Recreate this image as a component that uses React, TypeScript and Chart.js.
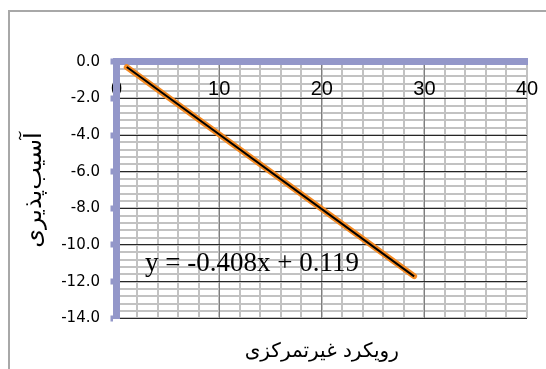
import { useEffect, useRef } from 'react';
import { Chart, registerables } from 'chart.js';

Chart.register(...registerables);

// ---- data ----
const X_VALUES = [1, 29];
const SERIES_VALUES = [-0.3, -11.7];
const TREND_VALUES = [-0.29, -11.71];

const X_MIN = 0;
const X_MAX = 40;
const X_MAJOR_STEP = 10;
const X_MINOR_STEP = 2;
const Y_MIN = -14;
const Y_MAX = 0;
const Y_MAJOR_STEP = 2;
const Y_MINOR_STEP = 0.4;

const EQUATION_TEXT = 'y = -0.408x + 0.119';
const EQUATION_AT = { x: 2.78, y: -11.44 };
const X_TITLE = 'رویکرد غیرتمرکزی';
const Y_TITLE = 'آسیب‌پذیری';

// ---- styles ----
const AXIS_BLUE = '#9397c9';
const ORANGE = '#f58a22';
const MINOR_GRID = '#c2c2c2';
const W = 546;
const H = 369;
const AREA = { left: 116.5, top: 61.7, right: 527, bottom: 318.3 };

const equationPlugin = {
  id: 'equationLabel',
  afterDatasetsDraw(chart: any) {
    const { ctx, scales } = chart;
    ctx.save();
    ctx.font = '27px "Liberation Serif"';
    ctx.fillStyle = '#000';
    ctx.textAlign = 'left';
    ctx.textBaseline = 'alphabetic';
    ctx.fillText(
      EQUATION_TEXT,
      scales.x.getPixelForValue(EQUATION_AT.x),
      scales.y.getPixelForValue(EQUATION_AT.y)
    );
    ctx.restore();
  },
};

export default function App() {
  const ref = useRef<HTMLCanvasElement>(null);

  useEffect(() => {
    const canvas = ref.current!;
    const chart = new Chart(canvas, {
      type: 'scatter',
      data: {
        datasets: [
          {
            data: X_VALUES.map((x, i) => ({ x, y: TREND_VALUES[i] })),
            borderColor: '#000',
            borderWidth: 2,
            showLine: true,
            pointRadius: 0,
            order: 0,
            xAxisID: 'x',
            yAxisID: 'y',
          },
          {
            data: X_VALUES.map((x, i) => ({ x, y: SERIES_VALUES[i] })),
            borderColor: ORANGE,
            borderWidth: 6,
            borderCapStyle: 'round',
            showLine: true,
            pointRadius: 0,
            order: 1,
            xAxisID: 'x',
            yAxisID: 'y',
          },
        ],
      },
      options: {
        animation: false,
        responsive: false,
        devicePixelRatio: 1,
        layout: { padding: { left: 0, top: 0, right: W - AREA.right, bottom: 0 } },
        plugins: { legend: { display: false }, tooltip: { enabled: false } },
        scales: {
          xMinor: {
            type: 'linear',
            position: 'bottom',
            min: X_MIN,
            max: X_MAX,
            afterFit: (s: any) => {
              s.height = H - AREA.bottom;
              s.paddingLeft = 0;
              s.paddingRight = 0;
            },
            ticks: { display: false, stepSize: X_MINOR_STEP },
            grid: { color: MINOR_GRID, lineWidth: 2, drawTicks: false, z: -2 },
            border: { display: false },
            title: {
              display: true,
              text: X_TITLE,
              color: '#000',
              font: { family: 'DejaVu Sans', size: 20 },
              padding: { top: 0, bottom: 5 },
            },
          },
          yMinor: {
            type: 'linear',
            position: 'left',
            min: Y_MIN,
            max: Y_MAX,
            afterFit: (s: any) => {
              s.width = 0;
            },
            ticks: { display: false, stepSize: Y_MINOR_STEP },
            grid: { color: MINOR_GRID, lineWidth: 2, drawTicks: false, z: -2 },
            border: { display: false },
          },
          x: {
            type: 'linear',
            position: 'top',
            min: X_MIN,
            max: X_MAX,
            afterFit: (s: any) => {
              s.height = AREA.top;
              s.paddingLeft = 0;
              s.paddingRight = 0;
            },
            ticks: {
              stepSize: X_MAJOR_STEP,
              mirror: true,
              padding: 15.3,
              maxRotation: 0,
              autoSkip: false,
              color: '#000',
              font: { family: 'Liberation Sans', size: 20 },
            },
            grid: {
              color: (c: any) =>
                c.tick && (c.tick.value === X_MIN || c.tick.value === X_MAX) ? 'rgba(0,0,0,0)' : '#7f7f7f',
              lineWidth: 1,
              drawTicks: false,
              z: -1,
            },
            border: { color: AXIS_BLUE, width: 7 },
          },
          y: {
            type: 'linear',
            position: 'left',
            min: Y_MIN,
            max: Y_MAX,
            afterFit: (s: any) => {
              s.width = AREA.left;
              s.paddingTop = 0;
              s.paddingBottom = 0;
            },
            ticks: {
              stepSize: Y_MAJOR_STEP,
              padding: 10.5,
              color: '#000',
              font: { family: 'DejaVu Sans', size: 15 },
              callback: (v: any) => Number(v).toFixed(1),
            },
            grid: {
              color: (c: any) => (c.tick && c.tick.value === Y_MAX ? 'rgba(0,0,0,0)' : '#262626'),
              lineWidth: 1,
              tickColor: AXIS_BLUE,
              tickWidth: 6,
              tickLength: 6,
              z: -1,
            },
            border: { color: AXIS_BLUE, width: 7 },
            title: {
              display: true,
              text: Y_TITLE,
              color: '#000',
              font: { family: 'DejaVu Sans', size: 24 },
              padding: { top: 20.6, bottom: 0 },
            },
          },
        },
      },
      plugins: [equationPlugin],
    } as any);
    return () => chart.destroy();
  }, []);

  return (
    <div style={{ position: 'fixed', left: 0, top: 0, width: W, height: H, background: '#fff', overflow: 'hidden' }}>
      <canvas ref={ref} width={W} height={H} style={{ position: 'absolute', left: 0, top: 0, width: W, height: H }} />
      <div
        style={{
          position: 'absolute',
          left: 8,
          top: 10,
          width: W,
          height: H,
          borderLeft: '2px solid #a8a8a8',
          borderTop: '2px solid #a8a8a8',
          pointerEvents: 'none',
        }}
      />
    </div>
  );
}
